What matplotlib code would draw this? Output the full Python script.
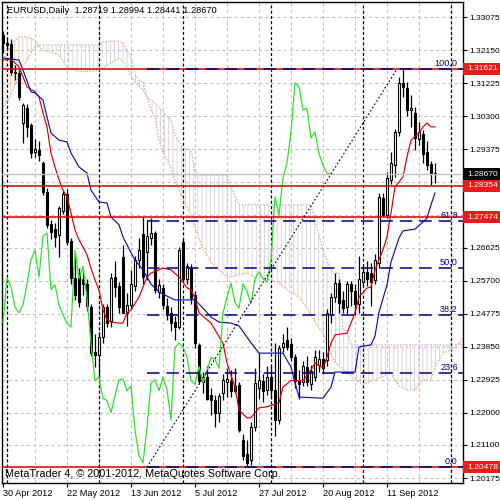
import matplotlib
matplotlib.use('Agg')
import matplotlib.pyplot as plt
import matplotlib.transforms as mtrans
from matplotlib.patches import Rectangle
import numpy as np

plt.rcParams['font.family'] = ['Liberation Sans', 'DejaVu Sans']
plt.rcParams['lines.scale_dashes'] = False
plt.rcParams['hatch.linewidth'] = 0.6

# ---------------- data ----------------
x_tick_idx = [0, 16, 32, 48, 64, 80, 96]
x_tick_labels = ['30 Apr 2012', '22 May 2012', '13 Jun 2012', '5 Jul 2012',
                 '27 Jul 2012', '20 Aug 2012', '11 Sep 2012']
y_ticks = [1.33075, 1.32150, 1.31225, 1.30300, 1.29375, 1.28450, 1.27525,
           1.26625, 1.25700, 1.24775, 1.23850, 1.22925, 1.22000, 1.21100, 1.20175]
y_tick_labels = ['1.33075', '1.32150', '1.31225', '1.30300', '1.29375', '', '',
                 '1.26625', '1.25700', '1.24775', '1.23850', '1.22925', '1.22000',
                 '1.21100', '1.20175']
separator_idx = [1, 24, 45, 67, 90, 112]

opens = [1.3258, 1.3235, 1.3232, 1.3155, 1.3152, 1.3011, 1.3052, 1.3005, 1.2930, 1.2935,
         1.2899, 1.2818, 1.2729, 1.2715, 1.2697, 1.2765, 1.2812, 1.2680, 1.2577, 1.2590,
         1.2575, 1.2560, 1.2496, 1.2370, 1.2362, 1.2412, 1.2496, 1.2458, 1.2580, 1.2555,
         1.2636, 1.2480, 1.2502, 1.2555, 1.2628, 1.2700, 1.2650, 1.2690, 1.2703, 1.2538,
         1.2550, 1.2500, 1.2478, 1.2455, 1.2440, 1.2678, 1.2575, 1.2605, 1.2530, 1.2390,
         1.2285, 1.2300, 1.2250, 1.2236, 1.2200, 1.2255, 1.2285, 1.2290, 1.2262, 1.2278,
         1.2125, 1.2085, 1.2068, 1.2159, 1.2270, 1.2290, 1.2265, 1.2300, 1.2265, 1.2180,
         1.2385, 1.2405, 1.2393, 1.2357, 1.2292, 1.2285, 1.2328, 1.2282, 1.2300, 1.2335,
         1.2350, 1.2347, 1.2474, 1.2524, 1.2563, 1.2515, 1.2495, 1.2560, 1.2540, 1.2505,
         1.2565, 1.2595, 1.2590, 1.2572, 1.2619, 1.2800, 1.2754, 1.2852, 1.2893, 1.2986,
         1.3123, 1.3110, 1.3047, 1.3040, 1.2966, 1.2980, 1.2930, 1.2895, 1.28719]
highs = [1.3268, 1.3250, 1.3245, 1.3172, 1.3160, 1.3066, 1.3063, 1.3010, 1.2965, 1.2960,
         1.2905, 1.2830, 1.2740, 1.2730, 1.2779, 1.2822, 1.2825, 1.2690, 1.2647, 1.2605,
         1.2600, 1.2575, 1.2505, 1.2420, 1.2426, 1.2505, 1.2505, 1.2590, 1.2625, 1.2565,
         1.2670, 1.2535, 1.2600, 1.2640, 1.2690, 1.2748, 1.2740, 1.2745, 1.2710, 1.2575,
         1.2560, 1.2520, 1.2495, 1.2470, 1.2665, 1.2690, 1.2620, 1.2615, 1.2540, 1.2395,
         1.2315, 1.2330, 1.2270, 1.2250, 1.2255, 1.2310, 1.2325, 1.2320, 1.2325, 1.2285,
         1.2140, 1.2125, 1.2175, 1.2325, 1.2367, 1.2310, 1.2330, 1.2335, 1.2395, 1.2390,
         1.2420, 1.2440, 1.2410, 1.2365, 1.2320, 1.2345, 1.2360, 1.2335, 1.2375, 1.2375,
         1.2370, 1.2490, 1.2535, 1.2590, 1.2575, 1.2540, 1.2570, 1.2570, 1.2560, 1.2640,
         1.2610, 1.2625, 1.2620, 1.2645, 1.2815, 1.2815, 1.2875, 1.2930, 1.2995, 1.3140,
         1.3162, 1.3125, 1.3090, 1.3055, 1.3015, 1.2990, 1.2960, 1.2905, 1.28994]
lows = [1.3207, 1.3215, 1.3145, 1.3132, 1.3075, 1.2955, 1.2972, 1.2913, 1.2915, 1.2905,
        1.2810, 1.2718, 1.2685, 1.2664, 1.2636, 1.2755, 1.2670, 1.2560, 1.2516, 1.2495,
        1.2530, 1.2485, 1.2360, 1.2328, 1.2290, 1.2395, 1.2440, 1.2440, 1.2524, 1.2480,
        1.2478, 1.2442, 1.2490, 1.2540, 1.2605, 1.2560, 1.2572, 1.2670, 1.2535, 1.2520,
        1.2490, 1.2460, 1.2430, 1.2404, 1.2435, 1.2565, 1.2560, 1.2505, 1.2380, 1.2280,
        1.2255, 1.2235, 1.2195, 1.2160, 1.2175, 1.2235, 1.2245, 1.2245, 1.2255, 1.2145,
        1.2067, 1.20478, 1.2055, 1.2150, 1.2240, 1.2230, 1.2250, 1.2240, 1.2135, 1.2170,
        1.2370, 1.2375, 1.2345, 1.2270, 1.2240, 1.2275, 1.2275, 1.2265, 1.2290, 1.2315,
        1.2310, 1.2330, 1.2450, 1.2510, 1.2480, 1.2480, 1.2475, 1.2500, 1.2475, 1.2480,
        1.2555, 1.2555, 1.2500, 1.2560, 1.2605, 1.2750, 1.2745, 1.2840, 1.2860, 1.2975,
        1.3085, 1.3030, 1.3000, 1.2935, 1.2950, 1.2900, 1.2880, 1.2838, 1.28441]
closes = [1.3235, 1.3228, 1.3155, 1.3150, 1.3083, 1.3061, 1.3000, 1.2927, 1.2938, 1.2920,
          1.2818, 1.2725, 1.2705, 1.2692, 1.2773, 1.2812, 1.2678, 1.2577, 1.2530, 1.2510,
          1.2560, 1.2500, 1.2367, 1.2362, 1.2412, 1.2495, 1.2452, 1.2578, 1.2553, 1.2496,
          1.2480, 1.2502, 1.2560, 1.2628, 1.2655, 1.2580, 1.2695, 1.2703, 1.2545, 1.2558,
          1.2502, 1.2475, 1.2450, 1.2440, 1.2655, 1.2575, 1.2610, 1.2521, 1.2395, 1.2290,
          1.2300, 1.2240, 1.2235, 1.2200, 1.2248, 1.2292, 1.2295, 1.2262, 1.2275, 1.2152,
          1.2080, 1.2060, 1.2159, 1.2284, 1.2292, 1.2262, 1.2300, 1.2265, 1.2180, 1.2382,
          1.2395, 1.2385, 1.2357, 1.2290, 1.2280, 1.2330, 1.2285, 1.2318, 1.2355, 1.2350,
          1.2325, 1.2479, 1.2524, 1.2563, 1.2508, 1.2493, 1.2560, 1.2540, 1.2505, 1.2575,
          1.2595, 1.2575, 1.2565, 1.2628, 1.2804, 1.2754, 1.2857, 1.2899, 1.2986, 1.3123,
          1.3112, 1.3047, 1.3052, 1.2969, 1.2985, 1.2925, 1.2893, 1.2871, 1.28670]

# Ichimoku lines (bar index, price)
tenkan_idx = [0, 2, 4, 6, 8, 9, 10, 11, 12, 13, 14, 15, 16, 17, 18, 19, 20, 21, 22, 23,
              24, 25, 26, 27, 29, 30, 31, 32, 34, 36, 37, 40, 42, 44, 46, 47, 48, 49, 52,
              55, 56, 58, 59, 61, 62, 64, 66, 69, 70, 72, 75, 77, 78, 80, 81, 82, 83, 86,
              87, 88, 89, 91, 92, 93, 95, 96, 97, 98, 100, 101, 102, 104, 105, 106, 107, 108]
tenkan_val = [1.3187, 1.3190, 1.3168, 1.3112, 1.3098, 1.3084, 1.3039, 1.3000, 1.2927, 1.2888,
              1.2852, 1.2823, 1.2804, 1.2759, 1.2712, 1.2684, 1.2664, 1.2642, 1.2605, 1.2572,
              1.2544, 1.2488, 1.2460, 1.2454, 1.2451, 1.2451, 1.2480, 1.2488, 1.2524, 1.2580,
              1.2591, 1.2605, 1.2600, 1.2580, 1.2550, 1.2544, 1.2521, 1.2480, 1.2451, 1.2395,
              1.2339, 1.2272, 1.2208, 1.2186, 1.2186, 1.2214, 1.2217, 1.2228, 1.2272, 1.2290,
              1.2290, 1.2320, 1.2339, 1.2325, 1.2356, 1.2395, 1.2418, 1.2423, 1.2451, 1.2480,
              1.2524, 1.2549, 1.2552, 1.2600, 1.2656, 1.2692, 1.2759, 1.2832, 1.2860, 1.2916,
              1.2963, 1.2983, 1.3000, 1.3011, 1.3000, 1.3000]
kijun_idx = [0, 4, 5, 7, 8, 10, 11, 12, 14, 16, 17, 19, 21, 22, 24, 26, 27, 29, 30, 32, 33,
             35, 37, 39, 42, 43, 48, 50, 52, 54, 57, 59, 62, 64, 70, 72, 73, 74, 80, 82, 83,
             88, 89, 92, 93, 94, 96, 97, 99, 100, 103, 105, 106, 107, 108]
kijun_val = [1.3193, 1.3187, 1.3159, 1.3098, 1.3095, 1.3075, 1.3028, 1.2983, 1.2963, 1.2958,
             1.2927, 1.2888, 1.2871, 1.2823, 1.2790, 1.2787, 1.2748, 1.2726, 1.2692, 1.2648,
             1.2628, 1.2600, 1.2560, 1.2538, 1.2521, 1.2516, 1.2516, 1.2493, 1.2468, 1.2454,
             1.2451, 1.2443, 1.2396, 1.2367, 1.2367, 1.2328, 1.2284, 1.2244, 1.2241, 1.2272,
             1.2314, 1.2314, 1.2384, 1.2390, 1.2415, 1.2482, 1.2558, 1.2622, 1.2689, 1.2709,
             1.2714, 1.2734, 1.2745, 1.2782, 1.2815]
cloud_idx = [0, 1, 2, 3, 4, 6, 8, 9, 10, 12, 14, 16, 19, 22, 24, 25, 27, 29, 30, 31, 32, 33,
             34, 35, 36, 37, 38, 39, 40, 42, 43, 45, 47, 48, 49, 50, 52, 54, 56, 57, 59, 61,
             63, 67, 69, 71, 74, 76, 77, 78, 80, 82, 83, 84, 85, 86, 87, 88, 90, 92, 94, 96,
             97, 99, 101, 103, 105, 107, 108, 110, 112, 114, 115]
span_a = [1.3187, 1.3210, 1.3229, 1.3243, 1.3252, 1.3252, 1.3243, 1.3224, 1.3215, 1.3210,
          1.3201, 1.3168, 1.3154, 1.3156, 1.3159, 1.3165, 1.3179, 1.3193, 1.3182, 1.3165,
          1.3142, 1.3126, 1.3114, 1.3103, 1.3084, 1.3047, 1.3028, 1.2963, 1.2930, 1.2885,
          1.2851, 1.2795, 1.2754, 1.2717, 1.2689, 1.2656, 1.2622, 1.2600, 1.2580, 1.2580,
          1.2586, 1.2591, 1.2580, 1.2572, 1.2563, 1.2544, 1.2524, 1.2493, 1.2474, 1.2454,
          1.2423, 1.2362, 1.2342, 1.2331, 1.2323, 1.2311, 1.2303, 1.2292, 1.2278, 1.2289,
          1.2297, 1.2306, 1.2311, 1.2275, 1.2264, 1.2264, 1.2292, 1.2292, 1.2328, 1.2367,
          1.2376, 1.2395, 1.2409]
span_b = [1.3056, 1.3070, 1.3089, 1.3117, 1.3145, 1.3187, 1.3226, 1.3229, 1.3229, 1.3229,
          1.3229, 1.3229, 1.3229, 1.3229, 1.3229, 1.3238, 1.3240, 1.3240, 1.3235, 1.3215,
          1.3193, 1.3148, 1.3129, 1.3126, 1.3084, 1.3075, 1.3067, 1.3053, 1.3042, 1.3019,
          1.2977, 1.2941, 1.2935, 1.2879, 1.2865, 1.2865, 1.2865, 1.2865, 1.2865, 1.2832,
          1.2782, 1.2782, 1.2782, 1.2782, 1.2782, 1.2782, 1.2782, 1.2782, 1.2782, 1.2740,
          1.2656, 1.2600, 1.2591, 1.2591, 1.2432, 1.2432, 1.2390, 1.2390, 1.2390, 1.2390,
          1.2390, 1.2390, 1.2390, 1.2390, 1.2390, 1.2390, 1.2390, 1.2390, 1.2390, 1.2390,
          1.2390, 1.2390, 1.2390]

chikou_shift = 26
red_levels = [1.31621, 1.28354, 1.27474, 1.20478]
bid_price = 1.28670
fib_low, fib_high = 1.20478, 1.31621
fib_start_idx, fib_end_idx = 36, 98.5
fib_ratios = [0.0, 0.236, 0.382, 0.5, 0.618, 1.0]
fib_labels = ['0.0', '23.6', '38.2', '50.0', '61.8', '100.0']
header = 'EURUSD,Daily  1.28719 1.28994 1.28441 1.28670'
copyright_text = 'MetaTrader 4, \u00a9 2001-2012, MetaQuotes Software Corp.'

# ---------------- figure ----------------
fig = plt.figure(figsize=(5, 5), dpi=100)
ax = fig.add_axes([0.004, 0.034, 0.922, 0.962])
ax.set_xlim(-0.25, 115)
ax.set_ylim(1.200364, 1.334947)
ax.set_facecolor('white')

FS = 6.6
YFS = 6.1
# grid
for yt in y_ticks:
    ax.axhline(yt, color='#c0c0c0', lw=0.8, dashes=(2.2, 2.2), zorder=0.5)
for xi in range(8, 116, 8):
    ax.axvline(xi, color='#c0c0c0', lw=0.8, dashes=(2.2, 2.2), zorder=0.5)
for s in separator_idx:
    ax.axvline(s, color='black', lw=0.9, dashes=(2.2, 1.6), zorder=1)

# cloud
ci = np.array(cloud_idx, dtype=float)
sa = np.array(span_a)
sb = np.array(span_b)
ax.fill_between(ci, sa, sb, where=sb >= sa, interpolate=True, facecolor='none',
                edgecolor='#d8cad8', hatch='||||', linewidth=0, zorder=1.5)
ax.fill_between(ci, sa, sb, where=sa >= sb, interpolate=True, facecolor='none',
                edgecolor='#f2cca8', hatch='||||', linewidth=0, zorder=1.5)
ax.plot(ci, sa, color='#e8a870', lw=0.9, dashes=(1.0, 1.2), zorder=2)
ax.plot(ci, sb, color='#c8a8c8', lw=0.9, dashes=(1.0, 1.2), zorder=2)

# candles
idx = np.arange(len(closes))
o = np.array(opens); h = np.array(highs); l = np.array(lows); c = np.array(closes)
ax.vlines(idx, l, h, color='black', lw=0.9, zorder=3)
up = c >= o
bottoms = np.minimum(o, c)
heights = np.maximum(np.abs(c - o), 0.00008)
ax.bar(idx[up], heights[up], bottom=bottoms[up], width=0.55, color='white',
       edgecolor='black', linewidth=0.8, zorder=4)
ax.bar(idx[~up], heights[~up], bottom=bottoms[~up], width=0.55, color='black',
       edgecolor='black', linewidth=0.8, zorder=4)

# ichimoku lines
ax.plot(tenkan_idx, tenkan_val, color='#d80000', lw=0.85, zorder=5)
ax.plot(kijun_idx, kijun_val, color='#1010b0', lw=0.85, zorder=5)
ax.plot(idx[chikou_shift:] - chikou_shift, c[chikou_shift:], color='#33dd33', lw=0.9, zorder=5)

# horizontal lines
for lv in red_levels:
    ax.axhline(lv, color='#d00000', lw=1.1, zorder=6)
ax.axhline(bid_price, color='#c0c0c0', lw=1.0, zorder=5.5)

# fibonacci
for r, lab in zip(fib_ratios, fib_labels):
    lv = fib_low + r * (fib_high - fib_low)
    ax.plot([fib_start_idx, 115], [lv, lv], color='#000080', lw=1.1,
            dashes=(9.0, 5.0), zorder=6.5)
    ax.text(113.7, lv + 0.0004, lab, color='#000080', fontsize=FS, ha='right',
            va='bottom', zorder=7)
ax.plot([fib_start_idx, fib_end_idx], [fib_low, fib_high], color='black', lw=0.8,
        dashes=(1.2, 1.6), zorder=6)

# axes/ticks
ax.yaxis.tick_right()
ax.set_yticks(y_ticks)
ax.set_yticklabels(y_tick_labels, fontsize=YFS)
ax.set_xticks(x_tick_idx)
ax.set_xticklabels(x_tick_labels, fontsize=FS)
for t in ax.get_xticklabels():
    t.set_ha('left')
ax.tick_params(axis='both', direction='out', length=3, width=0.8, pad=1.5, colors='black')
for sp in ax.spines.values():
    sp.set_color('black'); sp.set_linewidth(1.0)

trans = mtrans.blended_transform_factory(ax.transAxes, ax.transData)
box_h = 12 / 3574.0
def price_box(p, fc):
    ax.add_patch(Rectangle((1.0, p - box_h / 2), 0.085, box_h, transform=trans,
                           facecolor=fc, edgecolor='none', clip_on=False, zorder=10))
    ax.text(1 + 4 / 461, p, f'{p:.5f}', transform=trans, color='white', fontsize=YFS,
            va='center', ha='left', zorder=11, clip_on=False)

price_box(1.31621, '#f01818')
price_box(1.28670, '#000000')
price_box(1.28354, '#f01818')
price_box(1.27474, '#f01818')
price_box(1.20478, '#f01818')

ax.text(0.011, 0.982, header, transform=ax.transAxes, fontsize=6.7, ha='left',
        va='center', color='black', zorder=12)
ax.text(0.006, 0.019, copyright_text, transform=ax.transAxes, fontsize=7.8, ha='left',
        va='center', color='black', zorder=12)

fig.savefig('out.png', dpi=100)
